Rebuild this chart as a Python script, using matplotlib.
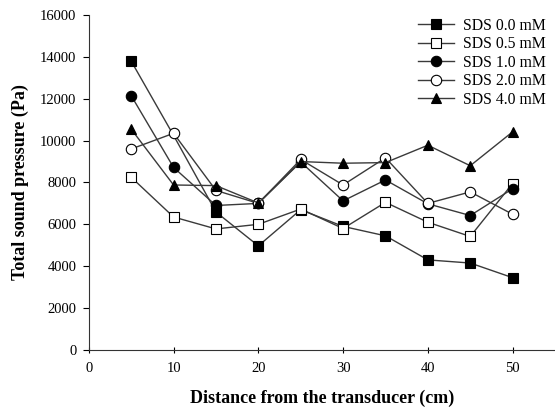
import matplotlib
matplotlib.use("Agg")
import matplotlib.pyplot as plt

plt.rcParams['font.family'] = ['Liberation Serif', 'DejaVu Serif']

distance = [5, 10, 15, 20, 25, 30, 35, 40, 45, 50]
sds_00 = [13800, 10250, 6590, 4970, 6700, 5900, 5450, 4300, 4150, 3450]
sds_05 = [8250, 6350, 5780, 6000, 6730, 5800, 7050, 6100, 5420, 7950]
sds_10 = [12150, 8720, 6900, 7000, 8980, 7120, 8120, 6980, 6420, 7700]
sds_20 = [9600, 10350, 7620, 7000, 9100, 7880, 9180, 7000, 7550, 6480]
sds_40 = [10550, 7880, 7850, 7020, 9000, 8920, 8950, 9780, 8800, 10420]
labels = ["SDS 0.0 mM", "SDS 0.5 mM", "SDS 1.0 mM", "SDS 2.0 mM", "SDS 4.0 mM"]
xticks = [0, 10, 20, 30, 40, 50]
yticks = [0, 2000, 4000, 6000, 8000, 10000, 12000, 14000, 16000]

fig = plt.figure(figsize=(5.55, 4.19), dpi=100)
ax = fig.add_axes([0.160, 0.165, 0.84, 0.799])

styles = [
    dict(marker='s', mfc='black', every=[0, 2, 3, 4, 5, 6, 7, 8, 9]),
    dict(marker='s', mfc='white', every=None),
    dict(marker='o', mfc='black', every=None),
    dict(marker='o', mfc='white', every=None),
    dict(marker='^', mfc='black', every=None),
]
series = [sds_00, sds_05, sds_10, sds_20, sds_40]
for ys, lab, st in zip(series, labels, styles):
    ax.plot(distance, ys, color='#3a3a3a', lw=1.0, marker=st['marker'],
            mfc=st['mfc'], mec='black', mew=0.8, ms=7.5, label=lab,
            markevery=st['every'])

ax.set_xlim(0, 55)
ax.set_ylim(0, 16000)
ax.set_xticks(xticks)
ax.set_yticks(yticks)
ax.spines['top'].set_visible(False)
ax.spines['right'].set_visible(False)
ax.spines['left'].set_color('#333333')
ax.spines['bottom'].set_color('#333333')
ax.tick_params(axis='y', labelsize=10.5, direction='out', length=4, width=0.8, pad=5)
ax.tick_params(axis='x', labelsize=10.5, direction='inout', length=5, width=0.8, pad=6)
ax.set_xlabel("Distance from the transducer (cm)", fontsize=13, fontweight='bold', labelpad=11)
ax.set_ylabel("Total sound pressure (Pa)", fontsize=13, fontweight='bold', labelpad=8)

leg = ax.legend(loc='upper right', bbox_to_anchor=(1.005, 1.025), frameon=False,
                fontsize=11.3, handlelength=2.3, labelspacing=0.16, handletextpad=0.6,
                borderaxespad=0.3)

fig.savefig("out.png", dpi=100)
